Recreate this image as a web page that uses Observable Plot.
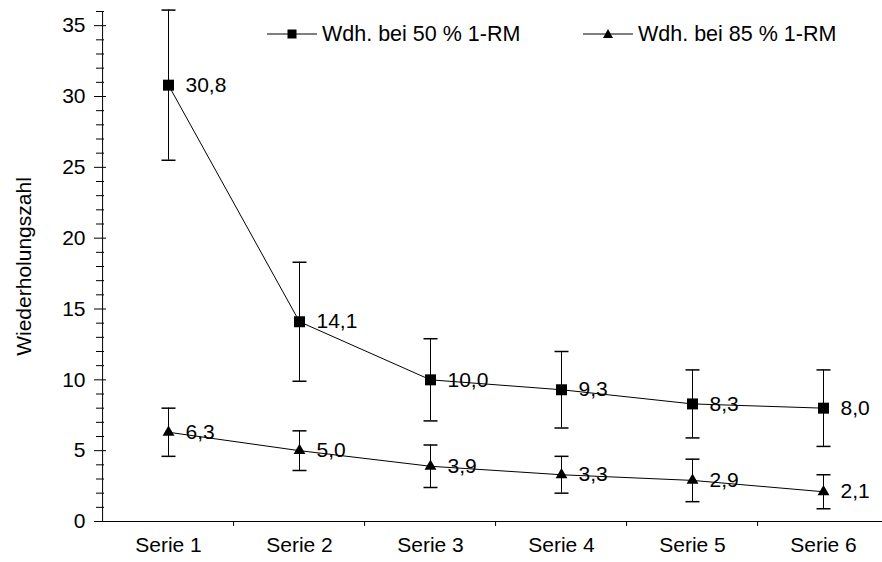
<!DOCTYPE html>
<html><head><meta charset="utf-8">
<script src="https://cdn.jsdelivr.net/npm/d3@7"></script>
<script src="https://cdn.jsdelivr.net/npm/@observablehq/plot@0.6"></script>
<style>
html,body{margin:0;padding:0;background:#fff;overflow:hidden;}
#wrap{position:relative;width:882px;height:562px;font-family:"Liberation Sans",Arial,sans-serif;}
#legend{position:absolute;top:22px;left:0;width:882px;height:24px;font-size:21.5px;color:#000;}
.item{position:absolute;top:0;display:flex;align-items:center;height:24px;white-space:nowrap;}
.item svg{display:block;margin-right:5px;}
</style></head><body>
<div id="wrap"><div id="chart"></div><div id="legend"></div></div>
<script>
const categories = ["Serie 1", "Serie 2", "Serie 3", "Serie 4", "Serie 5", "Serie 6"];
const values50 = [30.8, 14.1, 10.0, 9.3, 8.3, 8.0];
const sd50 = [5.3, 4.2, 2.9, 2.7, 2.4, 2.7];
const values85 = [6.3, 5.0, 3.9, 3.3, 2.9, 2.1];
const sd85 = [1.7, 1.4, 1.5, 1.3, 1.5, 1.2];
const seriesNames = ["Wdh. bei 50 % 1-RM", "Wdh. bei 85 % 1-RM"];
const yMajorTicks = [0, 5, 10, 15, 20, 25, 30, 35];
const yMinorTicks = d3.range(0, 37).filter(v => v % 5 !== 0);
const yLabel = "Wiederholungszahl";

const W = 882, H = 562, mL = 100, mR = -9, mT = 11, mB = 41;
const frameW = W - mL - mR;
const step = frameW / categories.length;
const FONT = 21;

const rows = [];
categories.forEach((c, i) => {
  rows.push({cat: c, s: seriesNames[0], v: values50[i], lo: values50[i] - sd50[i], hi: values50[i] + sd50[i]});
  rows.push({cat: c, s: seriesNames[1], v: values85[i], lo: values85[i] - sd85[i], hi: values85[i] + sd85[i]});
});
const r50 = rows.filter(d => d.s === seriesNames[0]);
const r85 = rows.filter(d => d.s === seriesNames[1]);
const fmt = v => v.toFixed(1).replace(".", ",");

const capSymbol = {draw(ctx) { ctx.moveTo(-7, 0); ctx.lineTo(7, 0); }};

const chart = Plot.plot({
  width: W, height: H,
  marginLeft: mL, marginRight: mR, marginTop: mT, marginBottom: mB,
  style: {fontFamily: '"Liberation Sans", Arial, sans-serif', fontSize: FONT + "px", background: "#fff", color: "#000"},
  x: {type: "point", domain: categories, padding: 0.5, axis: null},
  y: {domain: [0, 36], axis: null},
  marks: [
    // axes lines
    Plot.ruleY([0], {stroke: "#000"}),
    Plot.ruleX([categories[0]], {dx: -step / 2, y1: 0, y2: 36, stroke: "#000"}),
    Plot.ruleX(categories.slice(1), {x: d => d, dx: -step / 2, y1: 0, y2: -0.35, stroke: "#000"}),
    Plot.ruleY(yMajorTicks, {y: d => d, insetLeft: -6, insetRight: frameW - 6, stroke: "#000"}),
    Plot.ruleY(yMinorTicks, {y: d => d, insetLeft: -4, insetRight: frameW - 4, stroke: "#000"}),
    Plot.text(yMajorTicks, {y: d => d, frameAnchor: "left", dx: -15, textAnchor: "end", text: d => String(d), fill: "#000"}),
    Plot.text(categories, {x: d => d, y: 0, dy: 24, text: d => d, fill: "#000"}),
    Plot.text([yLabel], {frameAnchor: "left", dx: -76, rotate: -90, textAnchor: "middle", text: d => d, fill: "#000"}),
    // error bars
    Plot.ruleX(rows, {x: "cat", y1: "lo", y2: "hi", stroke: "#000"}),
    Plot.dot(rows, {x: "cat", y: "hi", symbol: capSymbol, stroke: "#000", fill: "none", r: 3}),
    Plot.dot(rows, {x: "cat", y: "lo", symbol: capSymbol, stroke: "#000", fill: "none", r: 3}),
    // lines
    Plot.line(r50, {x: "cat", y: "v", stroke: "#000", strokeWidth: 1}),
    Plot.line(r85, {x: "cat", y: "v", stroke: "#000", strokeWidth: 1}),
    // markers
    Plot.dot(r50, {x: "cat", y: "v", symbol: "square", r: 6.2, fill: "#000", stroke: "none"}),
    Plot.dot(r85, {x: "cat", y: "v", symbol: "triangle", r: 4.4, fill: "#000", stroke: "none"}),
    // value labels
    Plot.text(rows, {x: "cat", y: "v", text: d => fmt(d.v), dx: 17, textAnchor: "start", fill: "#000"})
  ]
});
document.getElementById("chart").appendChild(chart);

// legend
const legend = document.getElementById("legend");
const legendPos = [267, 583];
seriesNames.forEach((name, i) => {
  const item = document.createElement("div");
  item.className = "item";
  item.style.left = legendPos[i] + "px";
  const marker = i === 0
    ? '<rect x="20.5" y="7.5" width="9" height="9" fill="#000"/>'
    : '<path d="M25,7 L30,16 L20,16 Z" fill="#000"/>';
  item.innerHTML = '<svg width="50" height="24"><line x1="0" x2="50" y1="12" y2="12" stroke="#000" stroke-width="1"/>' + marker + '</svg><span>' + name + '</span>';
  legend.appendChild(item);
});
</script>
</body></html>
